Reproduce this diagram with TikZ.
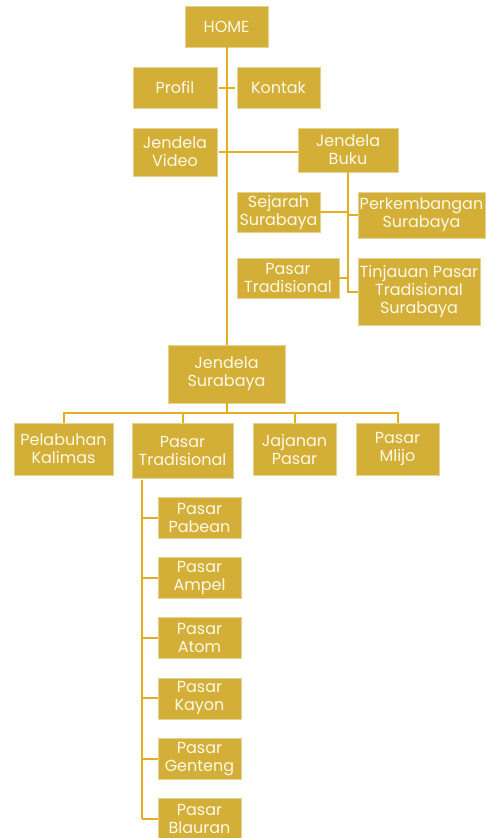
\documentclass[tikz,border=0pt]{standalone}
\usepackage{fontspec}
\setmainfont{Poppins}
\usetikzlibrary{calc}
\definecolor{cbox}{HTML}{D4AF37}
\definecolor{clink}{HTML}{E5AE22}
\definecolor{ctext}{HTML}{FFF9E8}
\tikzset{
  every picture/.style={x=1pt, y=-1pt, font=\fontsize{16}{18}\selectfont},
  page/.style={fill=cbox, draw=cbox!55!white, line width=0.4pt, text=ctext,
    align=center, inner sep=0pt, minimum width=83pt, minimum height=41pt},
  link/.style={clink, line width=2pt},
}
\def\step{60.3}
\newcommand{\bbox}{\path[use as bounding box] (0,0) rectangle (485,838);}

\begin{document}
\begin{tikzpicture}
  \bbox
  \node[page] (home) at (226.5,26.5) {HOME};
  \node[page, minimum width=84pt] (profil) at (175,87.5) {Profil};
  \node[page] (kontak) at (278.5,87.5) {Kontak};
  \node[page, minimum width=84pt, minimum height=48pt] (video) at (175,152) {Jendela\\Video};
  \node[page, minimum width=100pt, minimum height=44pt] (buku) at (348,150) {Jendela\\Buku};
  \node[page, minimum height=40pt] (sejarah) at (278.5,212) {Sejarah\\Surabaya};
  \node[page, minimum width=127pt, minimum height=46pt] (perkembangan) at (421.5,215) {Perkembangan\\Surabaya};
  \node[page, minimum width=102pt, minimum height=40pt] (pasartrad) at (288,278) {Pasar\\Tradisional};
  \node[page, minimum width=122pt, minimum height=67pt] (tinjauan) at (419,291.5) {Tinjauan Pasar\\Tradisional\\Surabaya};
  \node[page, minimum width=117pt, minimum height=58pt] (surabaya) at (226.5,374) {Jendela\\Surabaya};
  \node[page, minimum width=99pt, minimum height=52pt] (kalimas) at (63.5,449) {Pelabuhan\\Kalimas};
  \node[page, minimum width=101pt, minimum height=55pt] (pasar) at (182.5,450.5) {Pasar\\Tradisional};
  \node[page, minimum height=52pt] (jajanan) at (294.5,449) {Jajanan\\Pasar};
  \node[page, minimum height=52pt] (mlijo) at (397.5,449) {Pasar\\Mlijo};

  \draw[link] (home.south) -- (surabaya.north);
  \draw[link, shorten <=2pt, shorten >=2pt] (profil.east) -- (kontak.west);
  \draw[link, shorten <=2pt] (video.east) -- (video.east -| buku.west);
  \draw[link] (buku.south) |- (tinjauan.west);
  \draw[link] (sejarah.east) -- (sejarah.east -| buku.south);
  \draw[link] (perkembangan.west) -- (perkembangan.west -| buku.south);
  \draw[link] (pasartrad.east) -- (pasartrad.east -| buku.south);
  \foreach \c in {kalimas,pasar,jajanan,mlijo}
    \draw[link] (surabaya.south) -- ++(0,10) -| (\c.north);

  \coordinate (spine) at ($(pasar.south west)+(10,2)$);
  \foreach \n/\t [count=\i] in {pabean/Pabean,ampel/Ampel,atom/Atom,kayon/Kayon,genteng/Genteng,blauran/Blauran} {
    \node[page] (\n) at (199.5,{517.5+\step*(\i-1)}) {Pasar\\\t};
    \draw[link] (\n.west) -- (\n.west -| spine);
  }
  \draw[link] (spine) -- (spine |- blauran.west);
\end{tikzpicture}
\end{document}
